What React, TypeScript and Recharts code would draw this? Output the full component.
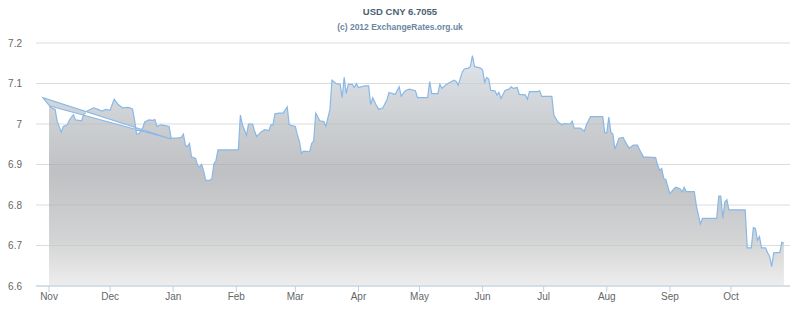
import React from 'react';
import { AreaChart, Area, XAxis, YAxis, CartesianGrid } from 'recharts';

// day offsets from 1 Nov 2011 (the first three points are out of order, as in the source feed)
const days = [
  0, 60, -3, 1, 3, 4, 6, 7, 9, 10,
  12, 13, 16, 17, 19, 22, 24, 26, 28, 30,
  32, 34, 36, 39, 41, 42, 43, 44, 46, 47,
  49, 51, 52, 53, 55, 57, 59, 60, 63, 65,
  66, 67, 68, 69, 70, 72, 73, 74, 75, 76,
  77, 79, 80, 81, 82, 83, 93, 94, 95, 97,
  98, 100, 101, 102, 104, 106, 108, 109, 110, 111,
  113, 115, 117, 118, 121, 122, 123, 124, 125, 128,
  129, 130, 131, 133, 135, 136, 138, 139, 141, 143,
  144, 145, 146, 147, 149, 150, 151, 152, 155, 157,
  158, 159, 161, 162, 164, 166, 167, 170, 172, 173,
  175, 177, 180, 181, 186, 187, 188, 191, 192, 193,
  195, 197, 199, 200, 201, 203, 204, 206, 207, 208,
  209, 212, 213, 214, 215, 216, 217, 219, 220, 221,
  222, 224, 226, 227, 228, 230, 231, 234, 235, 236,
  240, 241, 242, 247, 248, 250, 252, 253, 256, 257,
  258, 261, 263, 264, 266, 272, 273, 274, 275, 276,
  277, 278, 280, 282, 283, 285, 287, 289, 291, 292,
  298, 299, 300, 301, 302, 303, 305, 307, 308, 310,
  311, 312, 313, 317, 318, 320, 321, 328, 329, 330,
  331, 332, 333, 334, 342, 343, 345, 346, 347, 348,
  349, 350, 352, 353, 354, 355, 356, 359, 360, 361,
];

const rates = [
  7.045, 6.963, 7.065, 7.04, 7.036, 7.007, 6.98, 6.994, 6.998, 7.01,
  7.023, 7.01, 7.008, 7.023, 7.033, 7.04, 7.036, 7.032, 7.036, 7.034,
  7.061, 7.048, 7.04, 7.041, 7.037, 7.01, 6.975, 6.975, 6.99, 7.005,
  7.01, 7.009, 7.011, 6.994, 6.998, 6.996, 6.994, 6.965, 6.965, 6.967,
  6.975, 6.948, 6.944, 6.952, 6.919, 6.915, 6.898, 6.894, 6.9, 6.883,
  6.861, 6.861, 6.865, 6.902, 6.91, 6.936, 6.936, 7.022, 6.998, 6.972,
  7.0, 7.0, 6.982, 6.969, 6.98, 6.986, 6.984, 6.998, 6.998, 7.025,
  7.027, 7.027, 7.042, 6.998, 6.994, 6.973, 6.957, 6.928, 6.933, 6.932,
  6.952, 6.958, 7.027, 7.008, 7.006, 6.994, 7.036, 7.108, 7.1, 7.098,
  7.065, 7.115, 7.075, 7.098, 7.098, 7.09, 7.1, 7.09, 7.094, 7.094,
  7.048, 7.065, 7.044, 7.036, 7.04, 7.06, 7.078, 7.073, 7.092, 7.069,
  7.082, 7.086, 7.082, 7.065, 7.065, 7.105, 7.075, 7.075, 7.098, 7.088,
  7.097, 7.103, 7.108, 7.105, 7.096, 7.128, 7.136, 7.138, 7.142, 7.169,
  7.142, 7.138, 7.133, 7.103, 7.115, 7.111, 7.083, 7.082, 7.072, 7.078,
  7.063, 7.083, 7.086, 7.092, 7.088, 7.09, 7.073, 7.072, 7.061, 7.08,
  7.08, 7.082, 7.068, 7.068, 7.022, 7.005, 6.998, 7.001, 7.0, 7.007,
  6.99, 6.99, 6.982, 6.998, 7.018, 7.018, 6.978, 6.978, 7.017, 6.98,
  6.975, 6.938, 6.965, 6.967, 6.957, 6.94, 6.948, 6.948, 6.928, 6.919,
  6.917, 6.898, 6.886, 6.89, 6.865, 6.863, 6.828, 6.84, 6.844, 6.84,
  6.832, 6.844, 6.833, 6.833, 6.798, 6.753, 6.767, 6.767, 6.822, 6.822,
  6.767, 6.808, 6.813, 6.788, 6.788, 6.694, 6.694, 6.744, 6.742, 6.713,
  6.722, 6.694, 6.694, 6.682, 6.673, 6.648, 6.682, 6.683, 6.708, 6.7055,
];

const monthTicks = [0, 30, 61, 92, 121, 152, 182, 213, 243, 274, 305, 335];
const monthLabels = ['Nov', 'Dec', 'Jan', 'Feb', 'Mar', 'Apr', 'May', 'Jun', 'Jul', 'Aug', 'Sep', 'Oct'];
const rateTicks = [6.6, 6.7, 6.8, 6.9, 7.0, 7.1, 7.2];

const data = days.map((d, i) => ({ day: d, rate: rates[i] }));

const font = '"Liberation Sans", Arial, sans-serif';

export default function App() {
  return (
    <div style={{ position: 'absolute', left: 0, top: 0, width: 800, height: 321, background: '#fff', fontFamily: font }}>
      <div style={{ position: 'absolute', top: 6, width: 800, textAlign: 'center', fontSize: 9.5, lineHeight: '12px', fontWeight: 'bold', color: '#4a5f74' }}>
        USD CNY 6.7055
      </div>
      <div style={{ position: 'absolute', top: 21, width: 800, textAlign: 'center', fontSize: 8.5, lineHeight: '12px', fontWeight: 'bold', color: '#6d869f' }}>
        (c) 2012 ExchangeRates.org.uk
      </div>
      <AreaChart width={800} height={321} data={data} margin={{ top: 43, right: 10, left: 0, bottom: 5 }}>
        <defs>
          <linearGradient id="rateFill" x1="0" y1="0" x2="0" y2="1">
            <stop offset="0%" stopColor="#d2dae2" />
            <stop offset="30%" stopColor="#b6babe" />
            <stop offset="50%" stopColor="#a4a6aa" />
            <stop offset="80%" stopColor="#c0c1c2" />
            <stop offset="100%" stopColor="#e6e6e6" />
          </linearGradient>
        </defs>
        <CartesianGrid vertical={false} stroke="#dcdcdc" />
        <XAxis
          type="number"
          dataKey="day"
          domain={[-6.4, 364]}
          ticks={monthTicks}
          tickFormatter={(v) => monthLabels[monthTicks.indexOf(v)]}
          height={30}
          stroke="#c0d0e0"
          tickSize={6}
          tickMargin={1}
          tick={{ fill: '#666', fontSize: 10, fontFamily: font }}
        />
        <YAxis
          domain={[6.6, 7.2]}
          ticks={rateTicks}
          tickFormatter={(v) => String(Number(v.toFixed(1)))}
          width={36}
          axisLine={false}
          tickLine={false}
          tickSize={0}
          tickMargin={14}
          tick={{ fill: '#666', fontSize: 10, fontFamily: font }}
        />
        <Area
          type="linear"
          dataKey="rate"
          stroke="#88b8e8"
          strokeWidth={1.2}
          fill="url(#rateFill)"
          fillOpacity={0.7}
          isAnimationActive={false}
          dot={false}
          activeDot={false}
        />
      </AreaChart>
    </div>
  );
}
